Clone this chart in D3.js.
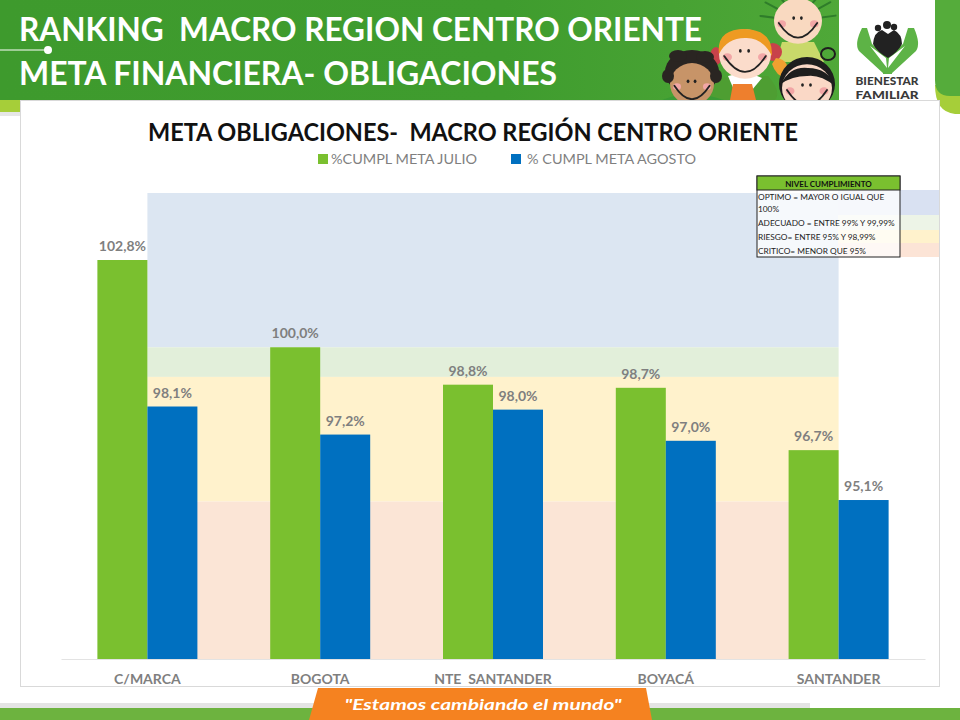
<!DOCTYPE html>
<html><head><meta charset="utf-8">
<script src="https://cdn.jsdelivr.net/npm/d3@7"></script>
<style>html,body{margin:0;padding:0;background:#fff}svg{display:block}text{font-family:Lato,"Open Sans",sans-serif}</style>
</head><body><svg id="c" width="960" height="720"></svg>
<script>
const categories=["C/MARCA","BOGOTA","NTE  SANTANDER","BOYACÁ","SANTANDER"];
const julio=[102.8,100.0,98.8,98.7,96.7];
const agosto=[98.1,97.2,98.0,97.0,95.1];
const seriesNames=["%CUMPL META JULIO","% CUMPL META AGOSTO"];
const seriesColors=["#7AC02F","#0070C0"];
const bandLevels=[[100,104.95,"#DCE6F2"],[99.05,100,"#E2EFDA"],[95.05,99.05,"#FFF2CC"],[90,95.05,"#FBE5D6"]];
const tableHead="NIVEL CUMPLIMIENTO";
const tableRows=["OPTIMO = MAYOR O IGUAL QUE","100%","ADECUADO = ENTRE 99% Y 99,99%","RIESGO= ENTRE 95% Y 98,99%","CRITICO= MENOR QUE 95%"];
const fmt=v=>v.toFixed(1).replace(".",",")+"%";

const svg=d3.select("#c");
const defs=svg.append("defs");
const grad=defs.append("linearGradient").attr("id","hd").attr("x1",0).attr("x2",1).attr("y1",0).attr("y2",0);
grad.append("stop").attr("offset","0").attr("stop-color","#3E9A2D");
grad.append("stop").attr("offset","0.6").attr("stop-color","#3F9C2E");
grad.append("stop").attr("offset","1").attr("stop-color","#4FA838");
defs.append("clipPath").attr("id","hc").append("rect").attr("x",640).attr("y",0).attr("width",199).attr("height",100);

const R=(x,y,w,h,f,p=svg)=>p.append("rect").attr("x",x).attr("y",y).attr("width",w).attr("height",h).attr("fill",f);
const T=(x,y,s,size,fill,weight,anchor="start",p=svg)=>p.append("text").attr("x",x).attr("y",y).text(s)
  .attr("font-size",size).attr("fill",fill).attr("font-weight",weight).attr("text-anchor",anchor);

// slide frame
R(0,98,22,14,"#A6CE39");
R(0,112,20,4,"#E6E6E6");
svg.append("path").attr("d","M935 85H960V114H955Q935 112 935 85Z").attr("fill","#A6CE39");
svg.append("path").attr("d","M935 0H960V96H950Q935 96 935 80Z").attr("fill","#55AC3B");
R(0,0,839,100,"url(#hd)");
R(839,0,96,100,"#fff");

// header text
T(19,41,"RANKING  MACRO REGION CENTRO ORIENTE",33,"#fff",700).style("white-space","pre").attr("textLength",683).attr("lengthAdjust","spacingAndGlyphs");
T(19,85,"META FINANCIERA- OBLIGACIONES",33,"#fff",700).attr("textLength",538).attr("lengthAdjust","spacingAndGlyphs");
svg.append("line").attr("x1",0).attr("x2",47).attr("y1",50).attr("y2",50).attr("stroke","#fff").attr("stroke-width",1);
svg.append("circle").attr("cx",48).attr("cy",50).attr("r",4).attr("fill","#fff");

// children illustration
const k=svg.append("g").attr("clip-path","url(#hc)");
function E(cx,cy,rx,ry,f,s,sw){return k.append("ellipse").attr("cx",cx).attr("cy",cy).attr("rx",rx).attr("ry",ry).attr("fill",f).attr("stroke",s||"none").attr("stroke-width",sw||0);}
function P(d,f,s,sw){return k.append("path").attr("d",d).attr("fill",f).attr("stroke",s||"none").attr("stroke-width",sw||0).attr("stroke-linecap","round");}
function face(cx,cy,r,sk){
  E(cx,cy,r,r*0.95,sk);
  E(cx-r*0.68,cy+r*0.12,r*0.18,r*0.15,"#F2A6A6");
  E(cx+r*0.68,cy+r*0.12,r*0.18,r*0.15,"#F2A6A6");
  E(cx-r*0.18,cy-r*0.12,1.4,1.8,"#222");E(cx+r*0.14,cy-r*0.12,1.4,1.8,"#222");
  P(`M${cx-r*0.8} ${cy+r*0.08}Q${cx} ${cy+r*1.3} ${cx+r*0.8} ${cy+r*0.08}`,"none","#222",1.8);
}
// top boy
for(const a of [-3,-2.6,-2.2,-1.85,-1.55,-1.25,-0.9,-0.55,-0.15]){
  P(`M${798+20*Math.cos(a)} ${21+20*Math.sin(a)}L${798+38*Math.cos(a)} ${21+36*Math.sin(a)}`,"none","#2F7D2A",2);
}
P("M782 42L814 42L824 62L776 62Z","#C9D96A");
face(798,21,24,"#F9D9C0");
// orange girl body
P("M718 78Q700 92 708 100H775Q782 92 768 76Z","#4E9E32");
P("M728 76Q745 70 762 78L752 90H734Z","#fff");
P("M733 84H752L756 100H730Z","#EE7F2D");
E(773,52,9,9,"#C8424A");P("M776 58Q792 60 786 78Q776 76 772 64Z","#F0A030");
E(716,56,6,9,"#C8424A");
face(745,54,26,"#FBDCCB");
P("M719 54Q716 29 745 29Q773 30 772 56Q762 37 745 38Q727 38 719 54Z","#EE9A22");
// dark boy
P("M662 100Q690 88 724 100Z","#3A9A35");
E(692,72,27,22,"#2A2522");
face(692,84,22,"#C79468");
E(668,76,6,7,"#2A2522");E(716,76,6,7,"#2A2522");E(678,56,9,6,"#2A2522");E(705,57,9,6,"#2A2522");
// black-hair girl
E(828,54,7,6,"none","#1E1E1E",2);
E(807,84,28,27,"#1E1E1E");
face(807,88,25,"#FAD8C6");
P("M781 84Q790 66 808 68Q828 68 835 86Q820 74 807 76Q792 76 781 84Z","#1E1E1E");

// chart panel
svg.append("rect").attr("x",20.5).attr("y",100.5).attr("width",919).attr("height",586).attr("fill","#fff").attr("stroke","#D9D9D9");

// logo
const l=svg.append("g");
l.append("path").attr("d","M862 28Q854 44 859 51L884 74H892V60L872 44L867 28Z").attr("fill","#5DB346");
l.append("path").attr("d","M914 28Q921 44 916 51L891 74H883V60L903 44L908 28Z").attr("fill","#5DB346");
l.append("path").attr("d","M870 46L886 58L887 68Z M905 46L889 58L888 68Z").attr("fill","#fff");
l.append("path").attr("d","M873 44Q874 32 882 30L888 34L894 30Q902 34 902 44Q898 52 888 58Q877 52 873 44Z").attr("fill","#222");
l.selectAll("circle.h").data([[878,28,3.2],[887,25,4],[894,27,3.2]]).join("circle").attr("cx",d=>d[0]).attr("cy",d=>d[1]).attr("r",d=>d[2]).attr("fill","#222");
T(887,85,"BIENESTAR",10.5,"#3A3A3A",900,"middle",l).attr("textLength",63).attr("lengthAdjust","spacingAndGlyphs");
T(887,99,"FAMILIAR",10.5,"#3A3A3A",900,"middle",l).attr("textLength",63).attr("lengthAdjust","spacingAndGlyphs");

// scales
const x0=d3.scaleBand().domain(categories).range([61,925]).paddingInner(0.4213).paddingOuter(0.2106);
const x1=d3.scaleBand().domain([0,1]).range([0,x0.bandwidth()]);
const y=d3.scaleLinear().domain([90,102.8]).range([659,260]);

// background bands
const bandX0=x0(categories[0])+x0.bandwidth()/2;
const bandX1=x0(categories[4])+x0.bandwidth()/2;
svg.append("g").selectAll("rect").data(bandLevels).join("rect")
  .attr("x",bandX0).attr("width",bandX1-bandX0)
  .attr("y",d=>y(d[1])).attr("height",d=>y(d[0])-y(d[1])).attr("fill",d=>d[2]);

// axis
const axis=svg.append("g").attr("transform","translate(0,659)").call(d3.axisBottom(x0).tickSize(0).tickPadding(15));
axis.select(".domain").attr("stroke","#E3E3E3");
axis.selectAll("text").attr("font-size",14).attr("font-weight",700).attr("fill","#7F7F7F").style("font-family","Lato,sans-serif").style("white-space","pre");

// bars + labels
[julio,agosto].forEach((vals,s)=>{
  const g=svg.append("g");
  g.selectAll("rect").data(vals).join("rect")
    .attr("x",(d,i)=>x0(categories[i])+x1(s)).attr("width",x1.bandwidth())
    .attr("y",d=>y(d)).attr("height",d=>y(90)-y(d)).attr("fill",seriesColors[s]);
  g.selectAll("text").data(vals).join("text")
    .attr("x",(d,i)=>x0(categories[i])+x1(s)+x1.bandwidth()/2).attr("y",d=>y(d)-9)
    .attr("text-anchor","middle").attr("font-size",14).attr("font-weight",700).attr("fill","#7F7F7F").text(fmt);
});

// titles and legend
T(473,141,"META OBLIGACIONES-  MACRO REGIÓN CENTRO ORIENTE",24,"#111",700,"middle").style("white-space","pre").attr("textLength",650).attr("lengthAdjust","spacingAndGlyphs");
R(318,154,10,10,seriesColors[0]);
T(331,164,seriesNames[0],14,"#7F7F7F",400).attr("textLength",146).attr("lengthAdjust","spacingAndGlyphs");
R(511,154,10,10,seriesColors[1]);
T(527,164,seriesNames[1],14,"#7F7F7F",400).attr("textLength",169).attr("lengthAdjust","spacingAndGlyphs");

// side swatches and table
R(838,190,101,25,"#D9E1F2");R(838,215,101,15,"#EDF4E7");R(838,230,101,13,"#FFF2CC");R(838,243,101,14,"#FCE4D6");
R(757,176,143,81,"#fff").attr("fill-opacity",0.75).attr("stroke","#222").attr("stroke-width",1);
R(757,176,143,14,"#7AC02F").attr("stroke","#222").attr("stroke-width",1);
T(828.5,187,tableHead,8,"#111",700,"middle");
const rowY=[200,212,226,240,254];
svg.append("g").selectAll("text").data(tableRows).join("text")
  .attr("x",758).attr("y",(d,i)=>rowY[i]).attr("font-size",8.3).attr("fill","#222").text(d=>d);

// footer
R(0,703,810,5,"#E4E4E4");
R(0,708,960,12,"#6DB33F");
svg.append("path").attr("d","M318 688H646L652 720H309Z").attr("fill","#F58220");
T(483,710,"\"Estamos cambiando el mundo\"",15,"#fff",700,"middle").attr("font-style","italic").attr("textLength",277).attr("lengthAdjust","spacingAndGlyphs");
</script></body></html>
